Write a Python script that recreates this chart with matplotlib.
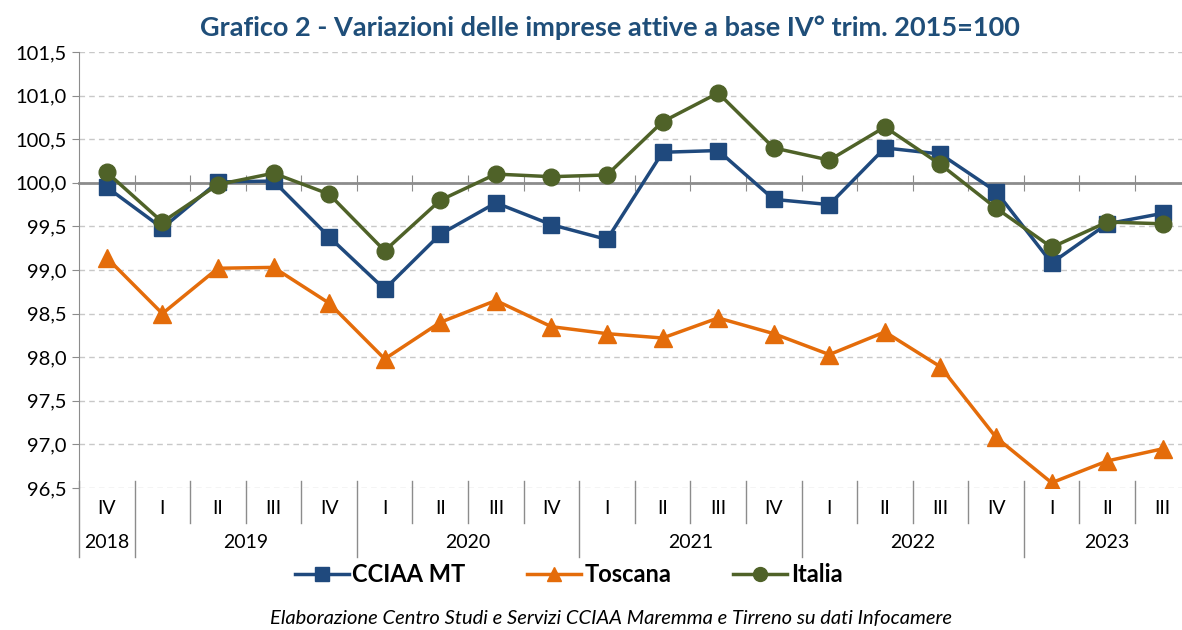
import numpy as np
import matplotlib
matplotlib.use('Agg')
import matplotlib.pyplot as plt
import matplotlib.transforms as mtransforms
from matplotlib.ticker import FuncFormatter, MultipleLocator

plt.rcParams['font.family'] = ['Lato', 'DejaVu Sans']

# Dati: trimestri dal IV 2018 al III 2023 (base IV trim. 2015 = 100)
trimestri = ['IV', 'I', 'II', 'III', 'IV', 'I', 'II', 'III', 'IV', 'I',
             'II', 'III', 'IV', 'I', 'II', 'III', 'IV', 'I', 'II', 'III']
anni = ['2018', '2019', '2020', '2021', '2022', '2023']
anni_inizio = [0, 1, 5, 9, 13, 17]
anni_fine = [0, 4, 8, 12, 16, 19]

cciaa_mt = [99.95, 99.48, 100.01, 100.02, 99.38, 98.78, 99.41, 99.77, 99.52, 99.35,
            100.35, 100.37, 99.81, 99.75, 100.40, 100.33, 99.90, 99.08, 99.53, 99.65]
toscana = [99.14, 98.50, 99.02, 99.03, 98.62, 97.98, 98.40, 98.65, 98.35, 98.27,
           98.22, 98.45, 98.27, 98.03, 98.29, 97.89, 97.08, 96.56, 96.81, 96.95]
italia = [100.12, 99.55, 99.98, 100.11, 99.87, 99.22, 99.80, 100.10, 100.07, 100.09,
          100.70, 101.03, 100.40, 100.26, 100.64, 100.21, 99.71, 99.26, 99.55, 99.53]

W, H = 1182, 630
fig = plt.figure(figsize=(W / 100, H / 100), dpi=100)
ax = fig.add_axes([79 / W, 1 - 488 / H, (W - 79) / W, 436 / H])

x = np.arange(len(trimestri))
ax.plot(x, cciaa_mt, color='#1F497D', lw=2.5, marker='s', ms=12, label='CCIAA MT', zorder=3)
ax.plot(x, toscana, color='#E46C0A', lw=2.5, marker='^', ms=13, label='Toscana', zorder=3)
ax.plot(x, italia, color='#4F6228', lw=2.5, marker='o', ms=12, label='Italia', zorder=4)

passo = 55.58  # px per categoria
ax.set_xlim(-0.5, -0.5 + (W - 79) / passo)
ax.set_ylim(96.5, 101.5)
ax.yaxis.set_major_locator(MultipleLocator(0.5))
ax.yaxis.set_major_formatter(FuncFormatter(lambda v, p: f'{v:.1f}'.replace('.', ',')))
ax.tick_params(axis='y', labelsize=14.5, length=5, color='#8C8C8C', pad=4)
ax.grid(axis='y', ls=(0, (4, 3)), color='#C8C8C8', lw=1)

for s in ['top', 'right']:
    ax.spines[s].set_visible(False)
ax.spines['left'].set_color('#8C8C8C')
ax.spines['bottom'].set_position(('data', 100))
ax.spines['bottom'].set_color('#8C8C8C')
ax.spines['bottom'].set_linewidth(2)
ax.set_xticks(np.arange(0.5, 19, 1))
ax.tick_params(axis='x', direction='inout', length=12, color='#8C8C8C', labelbottom=False)

# etichette di categoria sotto il grafico
trans = mtransforms.blended_transform_factory(ax.transData, ax.transAxes)
for i, q in enumerate(trimestri):
    ax.text(i, -0.048, q, transform=trans, ha='center', va='center', fontsize=14)
for a, i0, i1 in zip(anni, anni_inizio, anni_fine):
    ax.text((i0 + i1) / 2, -0.126, a, transform=trans, ha='center', va='center', fontsize=14)

confini_anni = [i - 0.5 for i in anni_inizio]
for b in np.arange(-0.5, 19, 1):
    fondo = -0.158 if b in confini_anni else -0.08
    ax.plot([b, b], [0.015, fondo], transform=trans, clip_on=False, color='#8C8C8C', lw=1)

fig.text(610 / W, 1 - 28 / H, 'Grafico 2 - Variazioni delle imprese attive a base IV° trim. 2015=100',
         ha='center', va='center', fontsize=19.5, weight='bold', color='#1F4E79')

leg = fig.legend(loc='center', bbox_to_anchor=(0.481, 1 - 575 / H), ncol=3, frameon=False,
                 prop=dict(weight='bold', size=17), handlelength=2.3, handletextpad=0.15,
                 columnspacing=2.6)
for h in leg.legend_handles:
    h.set_markersize(10)

fig.text(611 / W, 1 - 619 / H,
         'Elaborazione Centro Studi e Servizi CCIAA Maremma e Tirreno su dati Infocamere',
         ha='center', va='center', fontsize=14.5, style='italic')

fig.savefig('out.png', dpi=100)
